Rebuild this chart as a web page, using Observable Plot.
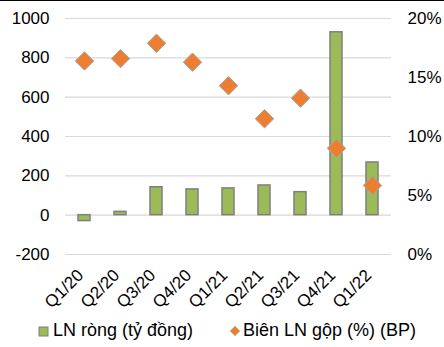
<!DOCTYPE html>
<html><head><meta charset="utf-8">
<script src="https://cdn.jsdelivr.net/npm/d3@7"></script>
<script src="https://cdn.jsdelivr.net/npm/@observablehq/plot@0.6"></script>
<style>
body{margin:0;background:#fff;font-family:"Liberation Sans",Arial,sans-serif;}
#wrap{position:relative;width:444px;height:347px;overflow:hidden;background:#fff}
#chart{position:absolute;left:0;top:0}
#topline{position:absolute;left:0;top:0;width:444px;height:1px;background:#000}
.leg{position:absolute;top:320px;font-size:18px;color:#000;white-space:nowrap;line-height:20px}
.leg svg{position:absolute}
</style></head><body>
<div id="wrap"><div id="chart"></div><div id="legend"></div><div id="topline"></div></div>
<script>
const quarters = ["Q1/20","Q2/20","Q3/20","Q4/20","Q1/21","Q2/21","Q3/21","Q4/21","Q1/22"];
const netProfit = [-30, 17, 142, 131, 136, 151, 117, 930, 268];
const grossMargin = [16.4, 16.6, 17.9, 16.3, 14.3, 11.5, 13.25, 9.0, 5.85];
const leftTicks = [-200, 0, 200, 400, 600, 800, 1000];
const rightTicks = [0, 5, 10, 15, 20];
const seriesNames = ["LN ròng (tỷ đồng)", "Biên LN gộp (%) (BP)"];

const yMin = -200, yMax = 1000, pMax = 20;
const toLeft = p => yMin + p / pMax * (yMax - yMin);
const fromLeft = v => (v - yMin) / (yMax - yMin) * pMax;
const data = quarters.map((q, i) => ({q, np: netProfit[i], gm: toLeft(grossMargin[i])}));

const chart = Plot.plot({
  width: 444, height: 347,
  marginTop: 18, marginBottom: 93, marginLeft: 65, marginRight: 53,
  style: {fontFamily: "Liberation Sans, Arial, sans-serif", fontSize: "17px", color: "#000", background: "#fff"},
  x: {domain: quarters, paddingInner: 0.66, paddingOuter: 0.33, label: null},
  y: {domain: [yMin, yMax], label: null},
  marks: [
    Plot.gridY(leftTicks, {stroke: "#d9d9d9", strokeOpacity: 1, strokeWidth: 1.2}),
    Plot.axisY(leftTicks, {anchor: "left", tickSize: 0, tickPadding: 16, label: null, fontSize: 17,
      tickFormat: v => String(v)}),
    Plot.axisY(rightTicks.map(toLeft), {anchor: "right", tickSize: 0, tickPadding: 16, label: null, fontSize: 17,
      tickFormat: v => Math.round(fromLeft(v)) + "%"}),
    Plot.axisX({tickSize: 0, tickRotate: -45, tickPadding: 18, dx: -4, label: null, fontSize: 17}),
    Plot.barY(data, {x: "q", y: "np", fill: "#9bbb59", stroke: "#7f7f7f", strokeWidth: 1.5}),
    Plot.dot(data, {x: "q", y: "gm", symbol: "diamond2", r: 8.3, fill: "#ed7d31", stroke: "#a6a6a6", strokeWidth: 1})
  ]
});
document.getElementById("chart").appendChild(chart);

const legend = document.getElementById("legend");
legend.innerHTML = `
<div class="leg" style="left:38px"><svg width="12" height="12" style="left:0;top:6px"><rect x="1" y="1" width="9" height="9" fill="#9bbb59" stroke="#7f7f7f" stroke-width="1"/></svg><span style="position:absolute;left:15px;top:0">${seriesNames[0]}</span></div>
<div class="leg" style="left:229px"><svg width="12" height="12" style="left:0;top:5px"><path d="M6,1L11,6L6,11L1,6Z" fill="#ed7d31" stroke="#c0c0c0" stroke-width="0.8"/></svg><span style="position:absolute;left:14px;top:0">${seriesNames[1]}</span></div>`;
</script>
</body></html>
